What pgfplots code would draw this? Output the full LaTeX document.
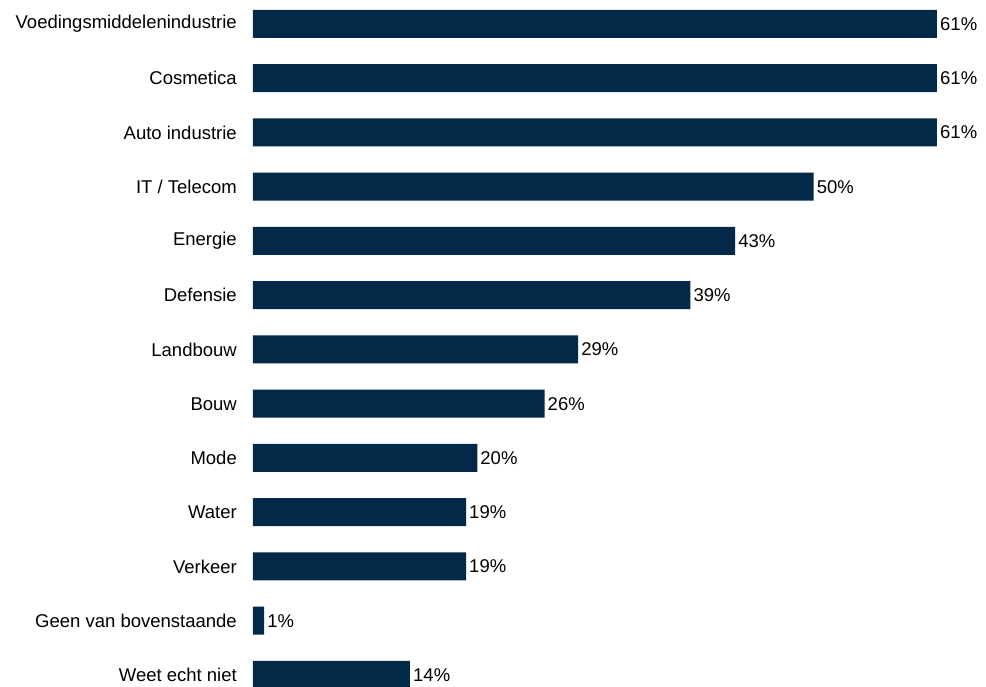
\documentclass[border=0pt]{standalone}
\usepackage{fontspec}
\setmainfont{Liberation Sans}
\usepackage{pgfplots}
\pgfplotsset{compat=1.18}
\definecolor{navy}{RGB}{3,40,72}
\begin{document}
\fontsize{18.5}{22}\selectfont
\begin{tikzpicture}
\begin{axis}[
  at={(0,0)}, anchor=south west,
  scale only axis,
  width=684pt, height=705.25pt,
  xmin=0, xmax=61,
  ymin=-0.5, ymax=12.5,
  y dir=reverse,
  xbar, bar width=28pt,
  axis line style={draw=none},
  xtick=\empty,
  ytick={0,...,12},
  yticklabels={Voedingsmiddelenindustrie,Cosmetica,Auto industrie,IT / Telecom,Energie,Defensie,Landbouw,Bouw,Mode,Water,Verkeer,Geen van bovenstaande,Weet echt niet},
  major tick length=0pt,
  yticklabel style={anchor=east, inner sep=0pt, xshift=-16pt, font=\fontsize{18.5}{22}\selectfont},
  clip=false,
  /pgf/number format/assume math mode=true,
  nodes near coords={\pgfmathprintnumber{\pgfplotspointmeta}\%},
  point meta=x,
  nodes near coords style={anchor=west, inner sep=0pt, xshift=3pt, font=\fontsize{18.5}{22}\selectfont, text=black},
]
\addplot[fill=navy, draw=none] coordinates {
(61,0) (61,1) (61,2) (50,3) (43,4) (39,5) (29,6) (26,7) (20,8) (19,9) (19,10) (1,11) (14,12)
};
\end{axis}
\pgfresetboundingbox
\path (-253pt,16.1pt) rectangle (733pt,702.1pt);
\end{tikzpicture}
\end{document}
